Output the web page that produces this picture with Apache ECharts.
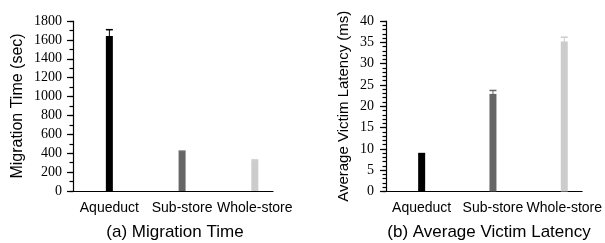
<!DOCTYPE html>
<html>
<head>
<meta charset="utf-8">
<script src="https://cdn.jsdelivr.net/npm/echarts@6/dist/echarts.min.js"></script>
<style>
  html, body { margin: 0; padding: 0; background: #fff; }
  #chart { width: 605px; height: 243px; }
</style>
</head>
<body>
<div id="chart"></div>
<script>
const categories = ['Aqueduct', 'Sub-store', 'Whole-store']
const migrationTime = [1640, 418, 325]
const migrationErr = [68, 4, 4]
const latency = [8.8, 22.9, 35.2]
const latencyErr = [0.1, 0.8, 1.0]
const leftTicks = [0, 200, 400, 600, 800, 1000, 1200, 1400, 1600, 1800]
const rightTicks = [0, 5, 10, 15, 20, 25, 30, 35, 40]

const barColors = ['#000000', '#666666', '#cccccc']
const sans = '"Liberation Sans", Arial, sans-serif'
const serif = '"Liberation Serif", "Times New Roman", serif'

const chart = echarts.init(document.getElementById('chart'))

// bars sit at the middle of each unit on a plain value axis
const positions = categories.map((c, i) => i + 0.5)

const barData = (vals) => vals.map((v, i) => ({
  value: [positions[i], v],
  itemStyle: { color: barColors[i] }
}))

const errData = (vals, errs) => vals.map((v, i) => [positions[i], v - errs[i], v + errs[i], i])

const renderErr = (params, api) => {
  const lo = api.coord([api.value(0), api.value(1)])
  const hi = api.coord([api.value(0), api.value(2)])
  const color = barColors[api.value(3)]
  const half = 3.5
  return {
    type: 'group',
    children: [
      { type: 'line', shape: { x1: hi[0], y1: lo[1], x2: hi[0], y2: hi[1] }, style: { stroke: color, lineWidth: 1 } },
      { type: 'line', shape: { x1: hi[0] - half, y1: hi[1], x2: hi[0] + half, y2: hi[1] }, style: { stroke: color, lineWidth: 1.5 } }
    ]
  }
}

const xAxisBase = (gridIndex) => ({
  type: 'value',
  gridIndex,
  min: 0,
  max: 2.75,
  axisLine: { show: true, onZero: false, lineStyle: { color: '#000', width: 1.2 } },
  axisTick: { show: false },
  splitLine: { show: false },
  axisLabel: {
    customValues: positions,
    formatter: (v) => categories[Math.round(v - 0.5)],
    color: '#000',
    fontFamily: sans,
    fontSize: 14,
    margin: 10
  }
})

const yAxisBase = (gridIndex, ticks, name, nameGap, labelMargin, nameSize) => ({
  type: 'value',
  gridIndex,
  min: ticks[0],
  max: ticks[ticks.length - 1],
  interval: ticks[1] - ticks[0],
  name,
  nameLocation: 'middle',
  nameGap,
  nameTextStyle: { color: '#000', fontFamily: sans, fontSize: nameSize },
  axisLine: { show: true, onZero: false, lineStyle: { color: '#000', width: 1.2 } },
  axisTick: { show: true, length: 6, lineStyle: { color: '#000', width: 1.2 } },
  splitLine: { show: false },
  axisLabel: {
    color: '#000',
    fontFamily: serif,
    fontSize: 14,
    margin: labelMargin,
    formatter: (v) => String(v)
  }
})

// extra label-less axis that only carries the short minor ticks
const minorAxis = (gridIndex, ticks, minorSplit) => ({
  type: 'value',
  gridIndex,
  position: 'left',
  min: ticks[0],
  max: ticks[ticks.length - 1],
  interval: (ticks[1] - ticks[0]) / minorSplit,
  axisLine: { show: false },
  axisTick: { show: true, length: 3.5, lineStyle: { color: '#000', width: 1.2 } },
  axisLabel: { show: false },
  splitLine: { show: false }
})

const option = {
  backgroundColor: '#fff',
  animation: false,
  title: [
    {
      text: '(a) Migration Time',
      left: 170,
      top: 219,
      textAlign: 'center',
      textStyle: { color: '#000', fontFamily: sans, fontSize: 17, fontWeight: 'normal' }
    },
    {
      text: '(b) Average Victim Latency',
      left: 484,
      top: 219,
      textAlign: 'center',
      textStyle: { color: '#000', fontFamily: sans, fontSize: 17, fontWeight: 'normal' }
    }
  ],
  grid: [
    { left: 73, top: 21, width: 200, height: 170 },
    { left: 386, top: 21, width: 200, height: 170.5 }
  ],
  xAxis: [xAxisBase(0), xAxisBase(1)],
  yAxis: [
    yAxisBase(0, leftTicks, 'Migration Time (sec)', 47, 11, 16),
    yAxisBase(1, rightTicks, 'Average Victim Latency (ms)', 35, 12, 15),
    minorAxis(0, leftTicks, 2),
    minorAxis(1, rightTicks, 5)
  ],
  series: [
    { type: 'bar', xAxisIndex: 0, yAxisIndex: 0, barWidth: 7, data: barData(migrationTime) },
    { type: 'custom', xAxisIndex: 0, yAxisIndex: 0, renderItem: renderErr, data: errData(migrationTime, migrationErr), z: 3 },
    { type: 'bar', xAxisIndex: 1, yAxisIndex: 1, barWidth: 7, data: barData(latency) },
    { type: 'custom', xAxisIndex: 1, yAxisIndex: 1, renderItem: renderErr, data: errData(latency, latencyErr), z: 3 }
  ]
}

chart.setOption(option)
</script>
</body>
</html>
